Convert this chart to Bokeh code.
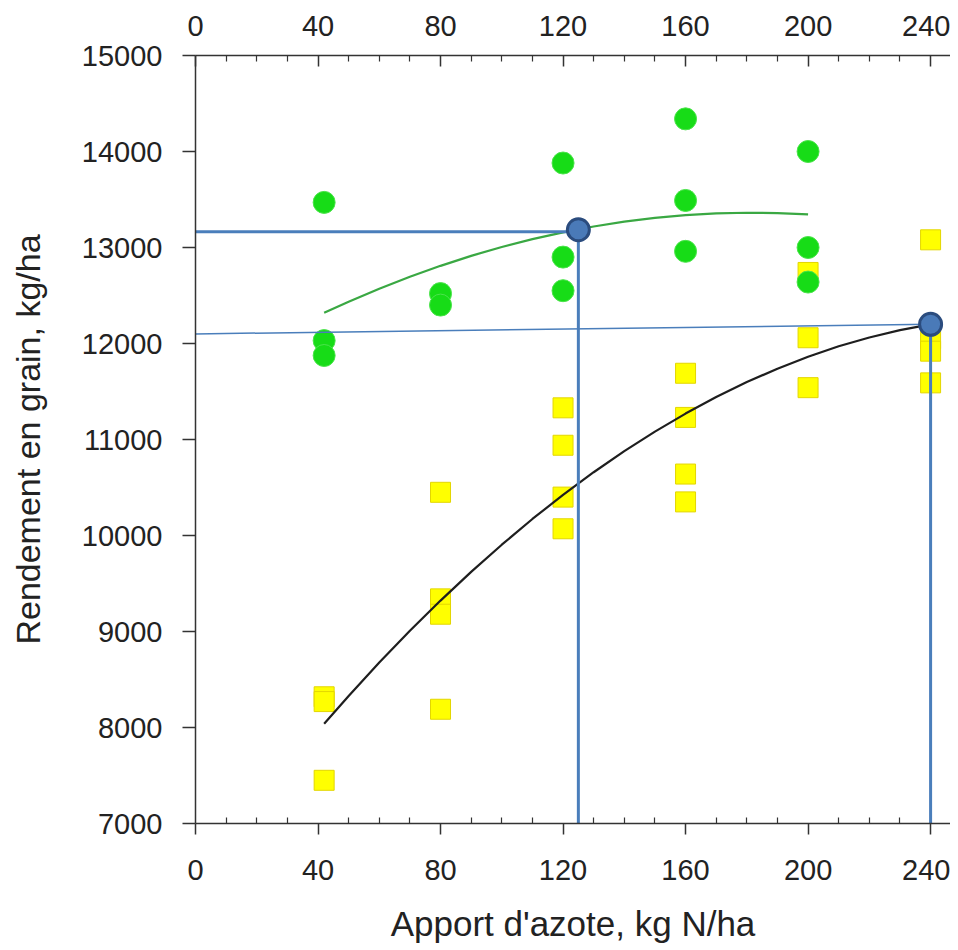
from bokeh.plotting import figure
from bokeh.models import LinearAxis, FixedTicker, Range1d
from bokeh.embed import file_html
from bokeh.resources import INLINE

# ---- data ----
x_ticks = [0, 40, 80, 120, 160, 200, 240]
x_minor_ticks = [10, 20, 30, 50, 60, 70, 90, 100, 110, 130, 140, 150,
                 170, 180, 190, 210, 220, 230]
y_ticks = [7000, 8000, 9000, 10000, 11000, 12000, 13000, 14000, 15000]

circle_x = [42, 42, 42, 80, 80, 120, 120, 120, 160, 160, 160, 200, 200, 200]
circle_y = [13470, 12030, 11875, 12520, 12400, 13880, 12900, 12550,
            14340, 13490, 12960, 14000, 13000, 12640]

square_x = [42, 42, 42, 80, 80, 80, 80, 120, 120, 120, 120,
            160, 160, 160, 160, 200, 200, 200, 240, 240, 240, 240]
square_y = [8320, 8270, 7450, 10450, 9340, 9180, 8190, 11330, 10940, 10400, 10070,
            11690, 11230, 10640, 10350, 12740, 12060, 11540, 13080, 12050, 11920, 11590]

green_fit_x = [42, 50, 60, 70, 80, 90, 100, 110, 120, 130, 140, 150,
               160, 170, 180, 190, 200]
green_fit_y = [12320, 12436, 12571, 12695, 12809, 12913, 13005, 13087, 13158,
               13219, 13269, 13308, 13337, 13355, 13362, 13359, 13345]

black_fit_x = [42, 50, 60, 70, 80, 90, 100, 110, 120, 130, 140, 150, 160,
               170, 180, 190, 200, 210, 220, 230, 240]
black_fit_y = [8040, 8329, 8676, 9007, 9322, 9621, 9904, 10172, 10423, 10659,
               10879, 11082, 11270, 11442, 11598, 11738, 11862, 11971, 12063,
               12140, 12200]

opt_x = [125, 240]
opt_y = [13185, 12200]
floor_y = [7000, 7000]

hline_a_x = [0, 125]
hline_a_y = [13165, 13165]
hline_b_x = [0, 240]
hline_b_y = [12100, 12200]

TICK_FONT = "Liberation Sans"
TITLE_FONT = "Liberation Sans"
AX_COLOR = "#333333"
TXT_COLOR = "#222222"

p = figure(frame_width=755, frame_height=768,
           x_range=Range1d(0, 246.5), y_range=Range1d(7000, 15000),
           output_backend="svg", toolbar_location=None,
           min_border_left=195, min_border_right=0,
           min_border_top=55, min_border_bottom=0,
           background_fill_color="white", border_fill_color="white")
p.xgrid.visible = False
p.ygrid.visible = False
p.outline_line_color = None


def style_x(ax, inward):
    ax.ticker = FixedTicker(ticks=x_ticks, minor_ticks=x_minor_ticks)
    ax.axis_line_color = AX_COLOR
    ax.axis_line_width = 1.5
    ax.major_tick_line_color = AX_COLOR
    ax.major_tick_line_width = 1.5
    ax.minor_tick_line_color = AX_COLOR
    ax.minor_tick_line_width = 1.2
    if inward:
        ax.major_tick_in = 11
        ax.major_tick_out = 0
    else:
        ax.major_tick_in = 0
        ax.major_tick_out = 11
    ax.minor_tick_in = 6
    ax.minor_tick_out = 0
    ax.major_label_text_font = TICK_FONT
    ax.major_label_text_font_size = "29px"
    ax.major_label_text_color = TXT_COLOR


style_x(p.xaxis[0], inward=False)
p.xaxis.major_label_standoff = 25
p.xaxis.axis_label = "Apport d'azote, kg N/ha"
p.xaxis.axis_label_text_font = TITLE_FONT
p.xaxis.axis_label_text_font_size = "35px"
p.xaxis.axis_label_text_font_style = "normal"
p.xaxis.axis_label_text_color = TXT_COLOR
p.xaxis.axis_label_standoff = 21

top = LinearAxis()
style_x(top, inward=True)
top.major_label_standoff = 20
p.add_layout(top, "above")

ya = p.yaxis[0]
ya.ticker = FixedTicker(ticks=y_ticks, minor_ticks=[])
ya.axis_line_color = AX_COLOR
ya.axis_line_width = 1.5
ya.major_tick_line_color = AX_COLOR
ya.major_tick_line_width = 1.5
ya.minor_tick_line_color = None
ya.major_tick_in = 0
ya.major_tick_out = 13
ya.major_label_standoff = 20
ya.major_label_text_font = TICK_FONT
ya.major_label_text_font_size = "29px"
ya.major_label_text_color = TXT_COLOR
ya.axis_label = "Rendement en grain, kg/ha"
ya.axis_label_text_font = TITLE_FONT
ya.axis_label_text_font_size = "34px"
ya.axis_label_text_font_style = "normal"
ya.axis_label_text_color = TXT_COLOR
ya.axis_label_standoff = 32

# yellow squares
p.scatter(square_x, square_y, marker="square", size=20,
          fill_color="#ffff00", line_color="#e3d600", line_width=1)
# green circles
p.scatter(circle_x, circle_y, marker="circle", size=22,
          fill_color="#17dc17", line_color="#4be44b", line_width=1)
# fitted curves
p.line(green_fit_x, green_fit_y, line_color="#3aa843", line_width=2.2)
p.line(black_fit_x, black_fit_y, line_color="#1e1e1e", line_width=2.2)
# blue reference lines
p.line(hline_a_x, hline_a_y, line_color="#4a7ebb", line_width=3)
p.line(hline_b_x, hline_b_y, line_color="#4a7ebb", line_width=1.5)
p.segment(x0=opt_x, y0=opt_y, x1=opt_x, y1=floor_y,
          line_color="#4a7ebb", line_width=3)
# optimum points
p.scatter(opt_x, opt_y, marker="circle", size=22,
          fill_color="#4a7ab8", line_color="#2b4c7e", line_width=3)

open("out.html", "w").write(file_html(p, INLINE))
